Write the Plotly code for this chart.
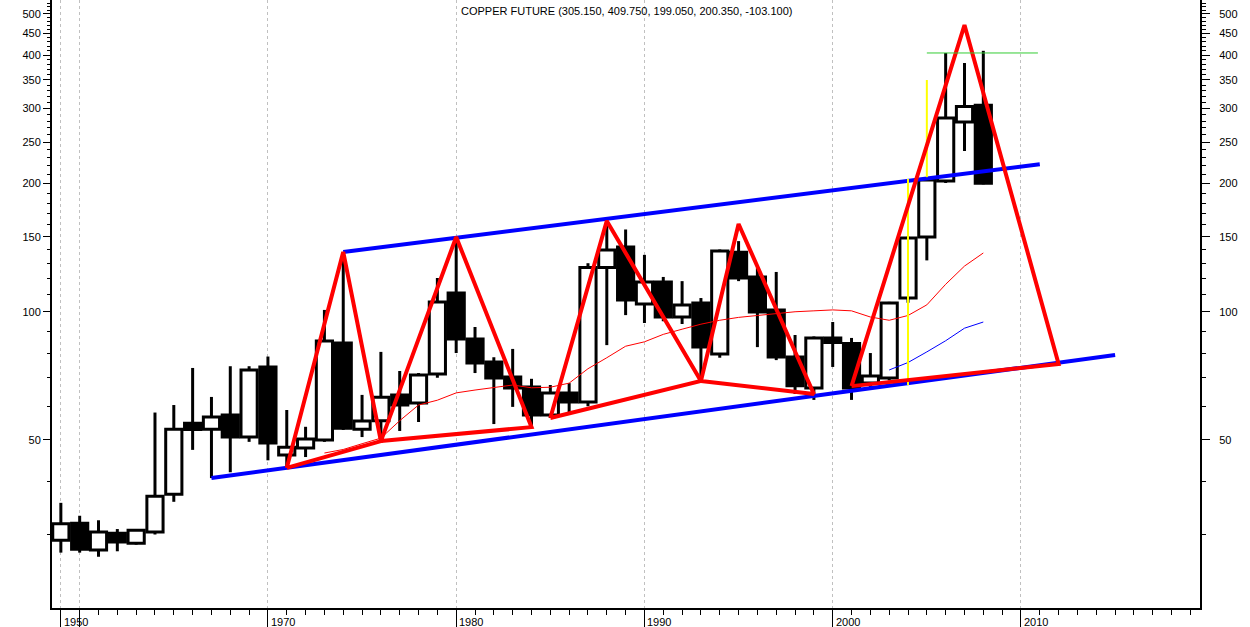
"""Yearly copper-future candlestick chart with a hand-drawn pattern overlay."""

import plotly.graph_objects as go

# yearly OHLC (US cents / lb)
years = list(range(1959, 2009))
opens = [29.1, 31.9, 27.6, 30.2, 28.6, 30.4, 37.3, 54.7, 53.0, 57.2,
         50.8, 74.2, 46.1, 47.9, 50.0, 84.5, 53.0, 55.5, 63.8, 61.1,
         71.4, 110.7, 86.3, 76.2, 70.3, 66.6, 57.2, 64.5, 61.4, 127.0,
         141.9, 104.3, 117.4, 97.2, 104.8, 79.6, 138.0, 120.7, 101.0, 78.3,
         66.2, 86.8, 84.2, 68.0, 69.9, 107.7, 149.8, 202.7, 279.0, 305.15]
highs = [35.6, 33.2, 32.4, 30.9, 30.9, 58.0, 60.4, 73.8, 63.1, 74.5,
         74.5, 78.5, 58.8, 53.7, 101.0, 137.0, 63.8, 80.5, 72.6, 71.8,
         120.0, 149.8, 92.1, 78.2, 81.8, 69.6, 67.3, 68.0, 130.0, 163.4,
         156.0, 136.0, 120.7, 118.0, 107.7, 140.0, 146.5, 126.6, 124.0, 88.2,
         87.5, 94.6, 86.8, 80.0, 105.5, 150.0, 205.0, 405.0, 383.6, 409.75]
lows = [27.2, 27.2, 26.6, 27.4, 28.4, 30.0, 35.8, 47.4, 40.7, 42.0,
        49.5, 44.8, 43.0, 45.6, 49.5, 52.8, 50.8, 50.0, 52.5, 55.1,
        70.0, 80.0, 71.8, 54.5, 59.8, 53.6, 56.3, 58.0, 60.0, 83.5,
        98.2, 94.1, 95.0, 93.6, 68.8, 78.0, 118.0, 82.6, 77.0, 64.1,
        62.1, 74.2, 62.1, 65.7, 69.0, 105.0, 132.0, 200.6, 238.4, 199.05]
closes = [31.8, 27.7, 30.4, 28.8, 30.7, 36.9, 53.0, 52.9, 56.6, 50.8,
          73.0, 49.2, 48.1, 50.3, 85.4, 53.3, 55.4, 63.0, 60.4, 71.0,
          105.4, 86.3, 75.8, 69.9, 66.2, 57.2, 64.5, 61.4, 127.0, 139.7,
          106.6, 117.4, 97.2, 103.7, 82.6, 138.9, 120.0, 99.9, 78.3, 67.0,
          86.8, 84.7, 66.2, 70.7, 104.8, 149.0, 203.8, 285.0, 303.45, 200.35]

# moving averages as drawn
ma_red_years = list(range(1973, 2009))
ma_red = [46.6, 47.5, 49.0, 50.5, 55.5, 60.4, 62.0, 64.5, 65.5, 66.5,
          67.3, 66.3, 66.5, 68.0, 73.5, 78.0, 83.0, 85.0, 88.5, 91.0,
          93.5, 95.5, 97.0, 98.0, 99.0, 100.0, 100.5, 101.0, 100.5, 97.2,
          95.5, 98.0, 103.8, 116.0, 128.0, 137.4]
ma_blue_years = [2003, 2004, 2005, 2006, 2007, 2008]
ma_blue = [73.0, 76.0, 80.5, 85.5, 91.5, 94.6]

# trend channel
channel_lower_years = [1967, 2015]
channel_lower = [40.7, 79.2]
channel_upper_years = [1974, 2011]
channel_upper = [138.2, 222.0]

# red triangles: pivot years and prices (low, high, low)
triangle_years = [(1971, 1974, 1976), (1976, 1980, 1984), (1985, 1988, 1993),
                  (1993, 1995, 1999), (2001, 2007, 2012)]
triangle_prices = [(43.0, 138.2, 49.7), (49.7, 149.8, 53.6), (56.3, 163.4, 68.8),
                   (68.8, 160.7, 64.1), (66.9, 471.0, 75.4)]

# yellow markers and the green resistance level
yellow_years = [2004, 2005]
yellow_low = [67.3, 207.0]
yellow_high = [205.0, 350.0]
resistance_years = [2005, 2010.9]
resistance = [405.0, 405.0]

title_text = "COPPER FUTURE (305.150, 409.750, 199.050, 200.350, -103.100)"
grid_years = [1959, 1960, 1970, 1980, 1990, 2000, 2010]
label_years = [1959, 1970, 1980, 1990, 2000, 2010]
label_text = ["1950", "1970", "1980", "1990", "2000", "2010"]
price_ticks = [50, 100, 150, 200, 250, 300, 350, 400, 450, 500]

FONT = "Liberation Sans, Arial, sans-serif"


def with_gaps(xs_groups, ys_groups, closed=True):
    """Flatten polylines into one x/y list separated by None."""
    xs, ys = [], []
    for gx, gy in zip(xs_groups, ys_groups):
        gx, gy = list(gx), list(gy)
        if closed:
            gx.append(gx[0])
            gy.append(gy[0])
        xs += gx + [None]
        ys += gy + [None]
    return xs, ys


body_low = [min(o, c) for o, c in zip(opens, closes)]
body_high = [max(o, c) for o, c in zip(opens, closes)]

fig = go.Figure()

# wick segments above and below each body (bars sit under scatter lines)
wick_x = [[y, y] for y in years] * 2
wick_y = ([[lo, bl] for lo, bl in zip(lows, body_low)]
          + [[bh, hi] for bh, hi in zip(body_high, highs)])
wx, wy = with_gaps(wick_x, wick_y, closed=False)
fig.add_trace(go.Scatter(x=wx, y=wy, mode="lines", line={"color": "black", "width": 3},
                         showlegend=False, hoverinfo="skip"))

fig.add_trace(go.Bar(
    x=years,
    base=body_low,
    y=[bh - bl for bl, bh in zip(body_low, body_high)],
    width=0.86,
    marker={"color": ["white" if c > o else "black" for o, c in zip(opens, closes)],
            "line": {"color": "black", "width": 3}},
    showlegend=False, hoverinfo="skip",
))

fig.add_trace(go.Scatter(x=ma_red_years, y=ma_red, mode="lines",
                         line={"color": "#ff0000", "width": 1}, showlegend=False))
fig.add_trace(go.Scatter(x=ma_blue_years, y=ma_blue, mode="lines",
                         line={"color": "#0000ff", "width": 1}, showlegend=False))

cx, cy = with_gaps([channel_lower_years, channel_upper_years],
                   [channel_lower, channel_upper], closed=False)
fig.add_trace(go.Scatter(x=cx, y=cy, mode="lines",
                         line={"color": "#0000ff", "width": 4}, showlegend=False))

yx, yy = with_gaps([[y, y] for y in yellow_years],
                   [[lo, hi] for lo, hi in zip(yellow_low, yellow_high)], closed=False)
fig.add_trace(go.Scatter(x=yx, y=yy, mode="lines",
                         line={"color": "#ffff00", "width": 2}, showlegend=False))

tx, ty = with_gaps(triangle_years, triangle_prices)
fig.add_trace(go.Scatter(x=tx, y=ty, mode="lines",
                         line={"color": "#ff0000", "width": 4}, showlegend=False))

fig.add_trace(go.Scatter(x=resistance_years, y=resistance, mode="lines",
                         line={"color": "#33cc33", "width": 1}, showlegend=False))

# invisible trace so the right-hand price axis gets drawn
fig.add_trace(go.Scatter(x=[years[0]], y=[closes[0]], yaxis="y2", mode="markers",
                         marker={"opacity": 0}, showlegend=False, hoverinfo="skip"))

for yr, txt in zip(label_years, label_text):
    fig.add_annotation(x=yr, y=0, xref="x", yref="paper", text=txt, showarrow=False,
                       xanchor="left", yanchor="top", xshift=1, yshift=-6,
                       font={"family": FONT, "size": 11, "color": "black"})

fig.add_annotation(x=0.5, y=1, xref="paper", yref="paper", text=title_text,
                   showarrow=False, xanchor="center", yanchor="top", yshift=-3,
                   font={"family": FONT, "size": 11, "color": "black"})

minor_prices = [v for v in range(20, 550, 10) if v % 50]
y_range = [1.3046, 2.7318]
y_common = {
    "type": "log", "range": y_range, "tickvals": price_ticks,
    "ticktext": [str(v) for v in price_ticks], "ticks": "outside",
    "tickcolor": "black", "tickwidth": 1, "showgrid": False, "zeroline": False,
    "showline": True, "linecolor": "black", "linewidth": 2,
    "tickfont": {"family": FONT, "size": 11, "color": "black"},
}

fig.update_layout(
    width=1250, height=627,
    margin={"l": 52, "r": 50, "t": 0, "b": 19},
    paper_bgcolor="white", plot_bgcolor="white",
    xaxis={
        "range": [1958.53, 2019.51], "tickvals": grid_years, "showticklabels": False,
        "ticks": "outside", "ticklen": 19, "tickcolor": "black", "tickwidth": 1,
        "showgrid": True, "gridcolor": "#c0c0c0", "griddash": "3px,3px", "gridwidth": 1,
        "showline": True, "linecolor": "black", "linewidth": 2, "zeroline": False,
        "minor": {"dtick": 1, "tick0": 1959, "ticks": "outside", "ticklen": 5,
                  "tickcolor": "black", "showgrid": False},
    },
    yaxis={**y_common, "side": "left", "ticklen": 7,
           "minor": {"tickmode": "array", "tickvals": minor_prices, "ticks": "outside",
                     "ticklen": 3, "tickcolor": "black", "showgrid": False}},
    yaxis2={**y_common, "side": "right", "overlaying": "y", "ticklen": 8,
            "ticklabelstandoff": 7,
            "minor": {"tickmode": "array", "tickvals": minor_prices, "ticks": "outside",
                      "ticklen": 4, "tickcolor": "black", "showgrid": False}},
)

fig.write_html("out.html", config={"displayModeBar": False},
               post_script="document.body.style.margin = '0px';")
